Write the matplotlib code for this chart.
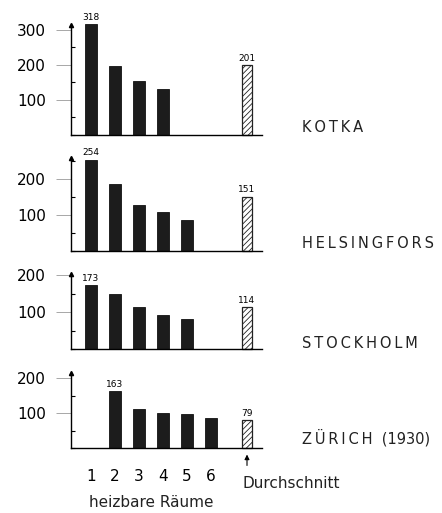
import numpy as np
import matplotlib.pyplot as plt
from matplotlib.ticker import MultipleLocator

plt.rcParams["font.family"] = ["DejaVu Sans"]
plt.rcParams["hatch.linewidth"] = 0.6

W, H = 442, 513

cities = ["KOTKA", "HELSINGFORS", "STOCKHOLM", "ZÜRICH"]
city_suffix = ["", "", "", "  (1930)"]
rooms = [1, 2, 3, 4, 5, 6]
room_labels = ["1", "2", "3", "4", "5", "6"]
kotka = [318, 197, 154, 131, np.nan, np.nan]
helsingfors = [254, 186, 128, 108, 86, np.nan]
stockholm = [173, 149, 113, 92, 81, np.nan]
zurich = [np.nan, 163, 111, 100, 97, 86]
averages = [201, 151, 114, 79]
labelled_bar = [0, 0, 0, 1]  # which room bar gets its value written on top
yticks = [[100, 200, 300], [100, 200], [100, 200], [100, 200]]

series = [kotka, helsingfors, stockholm, zurich]

# layout in pixels: baseline, top of y-axis, pixels per unit
baselines = [135, 251, 349, 448]
axis_tops = [25, 158, 274, 373]
px_per_unit = [0.35, 0.36, 0.37, 0.35]
label_y = [128, 244, 344, 438]
AVG_POS = 7.5


def fx(px):
    return px / W


def fy(py):
    return 1 - py / H


fig = plt.figure(figsize=(W / 100, H / 100), dpi=100)

for i, vals in enumerate(series):
    left, right = 71, 262
    ax = fig.add_axes([fx(left), fy(baselines[i]), (right - left) / W,
                       (baselines[i] - axis_tops[i]) / H])
    ax.set_xlim((left - 67) / 24, (right - 67) / 24)
    ax.set_ylim(0, (baselines[i] - axis_tops[i]) / px_per_unit[i])

    ax.bar(rooms, vals, width=0.5, color="#1c1c1c", edgecolor="#111", lw=0.6, clip_on=False)
    ax.bar([AVG_POS], [averages[i]], width=0.45, color="white", edgecolor="#222",
           hatch="//////", lw=0.9, clip_on=False)

    j = labelled_bar[i]
    ax.text(rooms[j], vals[j] + 6, str(int(vals[j])), ha="center", va="bottom", fontsize=6.5)
    ax.text(AVG_POS, averages[i] + 6, str(averages[i]), ha="center", va="bottom", fontsize=6.5)

    for s in ["top", "right"]:
        ax.spines[s].set_visible(False)
    ax.spines["left"].set_linewidth(1.0)
    ax.spines["bottom"].set_linewidth(1.0)
    ax.plot(0, 1, marker="^", ms=3, color="black", transform=ax.transAxes, clip_on=False)

    ax.set_yticks(yticks[i])
    ax.yaxis.set_minor_locator(MultipleLocator(50))
    ax.tick_params(axis="y", which="major", direction="out", length=11, width=0.6,
                   color="#999", pad=7, labelsize=11)
    ax.tick_params(axis="y", which="minor", direction="in", length=3, width=0.8)

    ax.text(fx(302), fy(label_y[i]), "\u2009".join(cities[i]) + city_suffix[i],
            transform=fig.transFigure, fontsize=10.5, va="center", ha="left", color="#222")

    if i < 3:
        ax.set_xticks([])
    else:
        ax.set_xticks(rooms)
        ax.set_xticklabels(room_labels, fontsize=11)
        ax.tick_params(axis="x", length=0, pad=15)
        ax.annotate("", xy=(AVG_POS, -0.05), xycoords=ax.get_xaxis_transform(),
                    xytext=(AVG_POS, -0.27), textcoords=ax.get_xaxis_transform(),
                    arrowprops=dict(arrowstyle="-|>", color="black", lw=0.8,
                                    mutation_scale=7))
        ax.text(AVG_POS - 0.18, -0.47, "Durchschnitt", transform=ax.get_xaxis_transform(),
                fontsize=11, ha="left", va="center", color="#222")
        ax.text(3.5, -0.73, "heizbare Räume", transform=ax.get_xaxis_transform(),
                fontsize=11, ha="center", va="center", color="#222")

fig.savefig("out.png", dpi=100)
